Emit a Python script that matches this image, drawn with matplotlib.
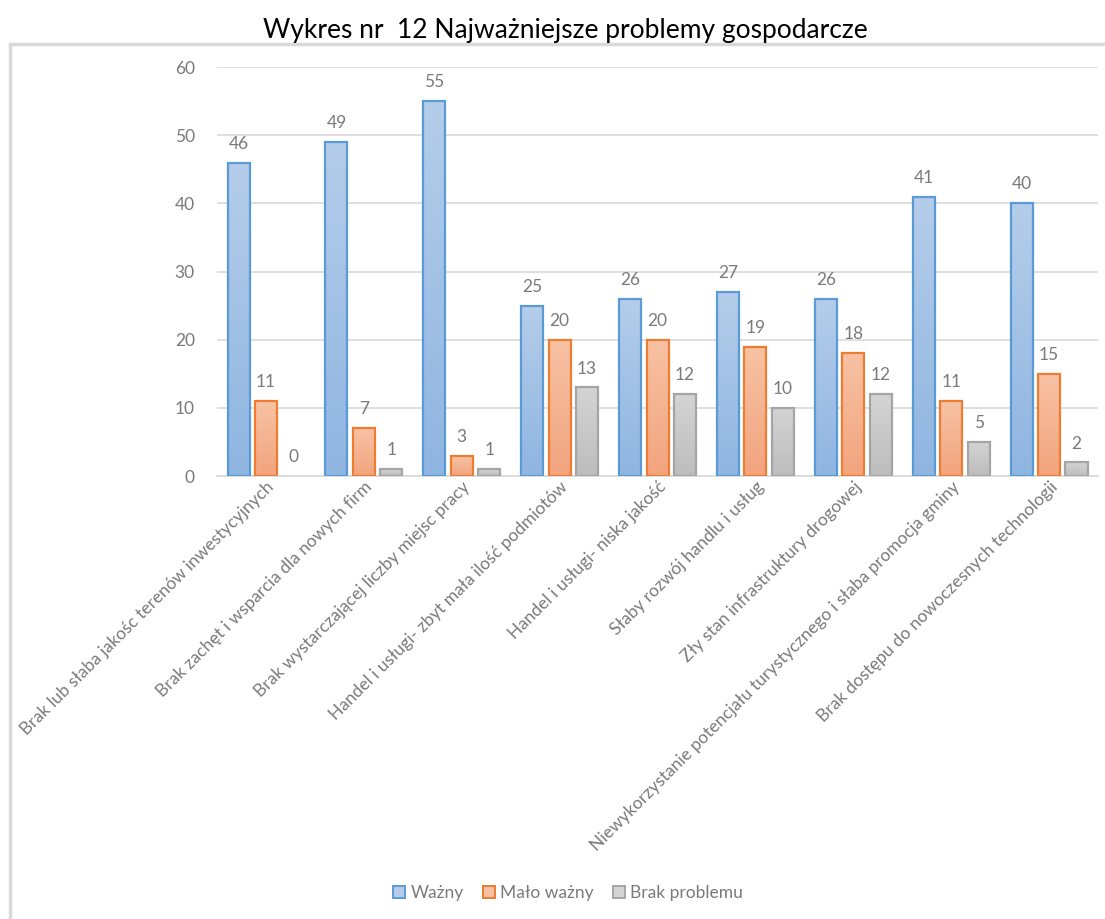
import numpy as np
import matplotlib
matplotlib.use("Agg")
import matplotlib.pyplot as plt
from matplotlib.patches import Rectangle
from matplotlib.colors import LinearSegmentedColormap

categories = [
    "Brak lub słaba jakośc terenów inwestycyjnych",
    "Brak zachęt i wsparcia dla nowych firm",
    "Brak wystarczającej liczby miejsc pracy",
    "Handel i usługi- zbyt mała ilość podmiotów",
    "Handel i usługi- niska jakość",
    "Słaby rozwój handlu i usług",
    "Zły stan infrastruktury drogowej",
    "Niewykorzystanie potencjału turystycznego i słaba promocja gminy",
    "Brak dostępu do nowoczesnych technologii",
]
wazny = [46, 49, 55, 25, 26, 27, 26, 41, 40]
malo_wazny = [11, 7, 3, 20, 20, 19, 18, 11, 15]
brak_problemu = [0, 1, 1, 13, 12, 10, 12, 5, 2]
series_names = ["Ważny", "Mało ważny", "Brak problemu"]

# kolory w stylu Excela: krawędź, góra gradientu, dół gradientu
styles = [
    ("#5B9BD5", "#B5CDEA", "#8FB5E1"),
    ("#ED7D31", "#F7C2A4", "#F2A47E"),
    ("#A5A5A5", "#D4D4D4", "#BDBDBD"),
]

plt.rcParams['font.family'] = ['Lato', 'DejaVu Sans']
text_gray = "#7A7A7A"

fig = plt.figure(figsize=(11.05, 9.19), dpi=100)
ax = fig.add_axes([0.1964, 0.482, 0.7973, 0.445])

# ramka wykresu (widoczna tylko z góry i z lewej)
fig.add_artist(Rectangle((0.009, -0.1), 1.2, 1.052, transform=fig.transFigure,
                         fill=False, edgecolor="#D9D9D9", linewidth=2.5))

x = np.arange(len(categories))
width = 0.225
offset = 0.28
grad = np.linspace(0, 1, 256).reshape(-1, 1)

for i, (vals, name) in enumerate(zip([wazny, malo_wazny, brak_problemu], series_names)):
    edge, top, bottom = styles[i]
    cmap = LinearSegmentedColormap.from_list("g%d" % i, [bottom, top])
    bars = ax.bar(x + (i - 1) * offset, vals, width, facecolor=top, edgecolor=edge,
                  linewidth=0, label=name, zorder=3)
    for b, v in zip(bars, vals):
        if v > 0:
            bx, bw = b.get_x(), b.get_width()
            im = ax.imshow(grad, cmap=cmap, extent=[bx, bx + bw, 0, v], origin="lower",
                           aspect="auto", zorder=3.5)
            im.set_clip_path(b)
            ax.add_patch(Rectangle((bx, 0), bw, v, fill=False, edgecolor=edge,
                                   linewidth=1.6, zorder=4))
        ax.text(b.get_x() + b.get_width() / 2, v + 1.6, str(v), ha="center", va="bottom",
                fontsize=12.5, color=text_gray)

ax.set_xlim(-0.5, len(categories) - 0.5)
ax.set_ylim(0, 60)
ax.set_yticks(range(0, 61, 10))
ax.grid(axis="y", color="#D9D9D9", linewidth=1.2, zorder=0)
ax.set_axisbelow(True)
for s in ["top", "right", "left"]:
    ax.spines[s].set_visible(False)
ax.spines["bottom"].set_color("#D9D9D9")
ax.spines["bottom"].set_linewidth(1.2)
ax.tick_params(axis="both", length=0, colors=text_gray, labelsize=12.5)
ax.tick_params(axis="y", pad=16)
ax.tick_params(axis="x", pad=2)
ax.set_xticks(x)
ax.set_xticklabels(categories, rotation=45, ha="right", va="top", rotation_mode="anchor",
                   fontsize=12.5, color=text_gray)

fig.text(0.512, 0.967, "Wykres nr  12 Najważniejsze problemy gospodarcze", ha="center",
         va="center", fontsize=19, color="#000000")

handles, labels = ax.get_legend_handles_labels()
leg = fig.legend(handles, labels, loc="center", bbox_to_anchor=(0.514, 0.028), ncol=3,
                 frameon=False, fontsize=12.5, handlelength=0.7, handleheight=0.7,
                 handletextpad=0.3, columnspacing=1.1, labelcolor=text_gray)
# w legendzie kwadraty z krawędzią
for p, (edge, top, bottom) in zip(leg.get_patches(), styles):
    p.set_edgecolor(edge)
    p.set_linewidth(1.4)

fig.savefig("out.png", dpi=100)
